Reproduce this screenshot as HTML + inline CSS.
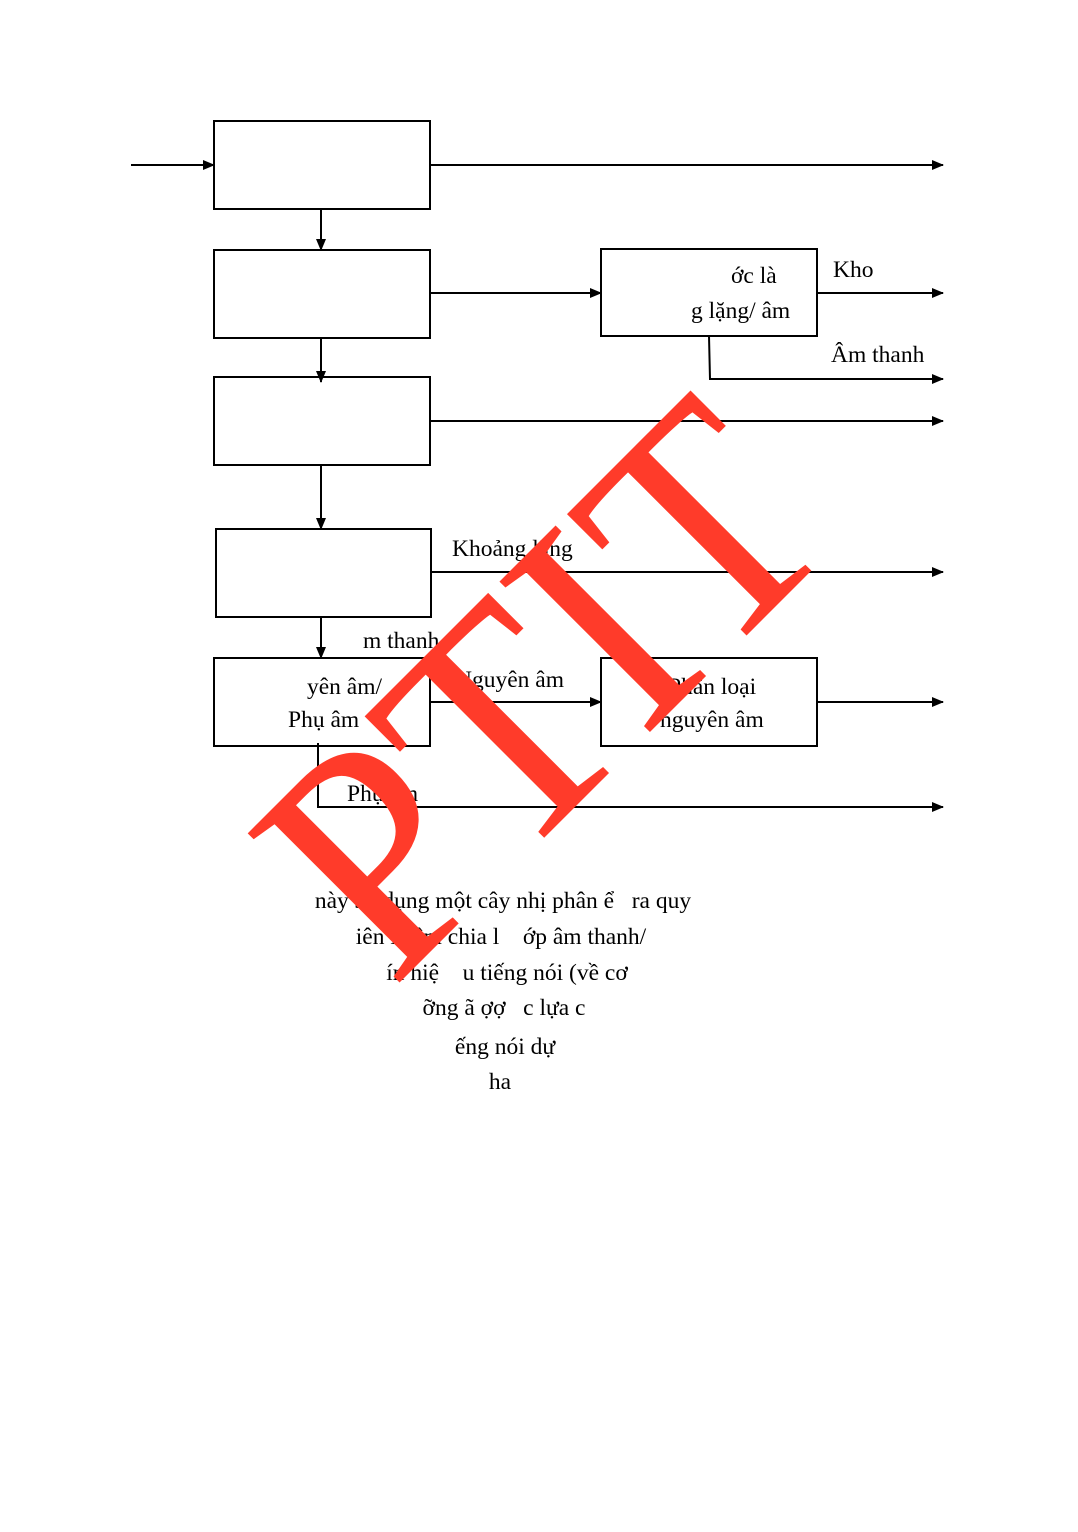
<!DOCTYPE html>
<html><head><meta charset="utf-8"><style>
html,body{margin:0;padding:0;background:#fff;}
svg{display:block;}
text{font-family:"Liberation Serif",serif;fill:#000;white-space:pre;}
</style></head><body>
<svg width="1078" height="1532" viewBox="0 0 1078 1532" xmlns="http://www.w3.org/2000/svg">
<defs><marker id="a" markerWidth="12" markerHeight="10" refX="11" refY="5" orient="auto" markerUnits="userSpaceOnUse"><path d="M0,0 L12,5 L0,10 z" fill="#000"/></marker></defs>
<g fill="#fff" stroke="#000" stroke-width="2">
<rect x="214" y="121" width="216" height="88"/>
<rect x="214" y="250" width="216" height="88"/>
<rect x="214" y="377" width="216" height="88"/>
<rect x="216" y="529" width="215" height="88"/>
<rect x="214" y="658" width="216" height="88"/>
<rect x="601" y="249" width="216" height="87"/>
<rect x="601" y="658" width="216" height="88"/>
</g>
<g stroke="#000" stroke-width="2" fill="none" marker-end="url(#a)">
<line x1="131" y1="165" x2="214" y2="165"/>
<line x1="430" y1="165" x2="943" y2="165"/>
<line x1="321" y1="209" x2="321" y2="250"/>
<line x1="430" y1="293" x2="601" y2="293"/>
<line x1="817" y1="293" x2="943" y2="293"/>
<polyline points="709,336 710,379 943,379"/>
<line x1="321" y1="338" x2="321" y2="382"/>
<line x1="430" y1="421" x2="943" y2="421"/>
<line x1="321" y1="465" x2="321" y2="529"/>
<line x1="430" y1="572" x2="943" y2="572"/>
<line x1="321" y1="617" x2="321" y2="658"/>
<line x1="430" y1="702" x2="601" y2="702"/>
<line x1="817" y1="702" x2="943" y2="702"/>
<polyline points="318,743 318,807 943,807"/>
</g>
<g font-size="23.5">
<text x="731" y="283">ớc là</text>
<text x="691" y="318">g lặng/ âm</text>
<text x="833" y="277">Kho</text>
<text x="831" y="362">Âm thanh</text>
<text x="452" y="556">Khoảng lặng</text>
<text x="363" y="648">m thanh</text>
<text x="307" y="694">yên âm/</text>
<text x="288" y="727">Phụ âm</text>
<text x="455" y="687">Nguyên âm</text>
<text x="668" y="694">Phân loại</text>
<text x="660" y="727">nguyên âm</text>
<text x="347" y="801">Phụ âm</text>
</g>
<g font-size="23.5" text-anchor="middle">
<text x="503" y="908">này sử dụng một cây nhị phân ể   ra quy</text>
<text x="501" y="944">iên là âm chia l    ớp âm thanh/</text>
<text x="507" y="980">ín hiệ    u tiếng nói (về cơ</text>
<text x="504" y="1015">ỡng ã ợợ   c lựa c</text>
<text x="505" y="1054">ếng nói dự</text>
<text x="500" y="1089">ha</text>
</g>
<text x="0" y="0" font-size="325" style="fill:#ff3b2a" transform="translate(392,990) rotate(-45)" textLength="640" lengthAdjust="spacingAndGlyphs">PTIT</text>
</svg>
</body></html>
